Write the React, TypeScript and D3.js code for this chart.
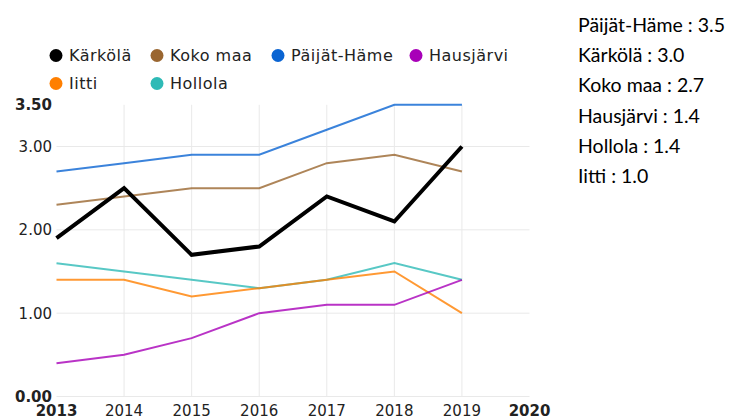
import React from "react";
import * as d3 from "d3";

const years = [2013, 2014, 2015, 2016, 2017, 2018, 2019];
const xTicks = [2013, 2014, 2015, 2016, 2017, 2018, 2019, 2020];
const yTicks = [0, 1, 2, 3, 3.5];

const karkola = [1.9, 2.5, 1.7, 1.8, 2.4, 2.1, 3.0];
const kokoMaa = [2.3, 2.4, 2.5, 2.5, 2.8, 2.9, 2.7];
const paijatHame = [2.7, 2.8, 2.9, 2.9, 3.2, 3.5, 3.5];
const hausjarvi = [0.4, 0.5, 0.7, 1.0, 1.1, 1.1, 1.4];
const iitti = [1.4, 1.4, 1.2, 1.3, 1.4, 1.5, 1.0];
const hollola = [1.6, 1.5, 1.4, 1.3, 1.4, 1.6, 1.4];

const seriesNames = ["Kärkölä", "Koko maa", "Päijät-Häme", "Hausjärvi", "Iitti", "Hollola"];
const seriesValues = [karkola, kokoMaa, paijatHame, hausjarvi, iitti, hollola];
const seriesColors = ["#000000", "#9a6630", "#0a64d2", "#a800b8", "#ff7f00", "#2ebab6"];
const seriesWidths = [4, 2, 2, 2, 2, 2];

const latestLabels = ["Päijät-Häme : 3.5", "Kärkölä : 3.0", "Koko maa : 2.7", "Hausjärvi : 1.4", "Hollola : 1.4", "Iitti : 1.0"];

const legendCols = [56, 157, 278, 416];

export default function App() {
  const x = d3.scaleLinear().domain([2013, 2020]).range([56.5, 529.5]);
  const y = d3.scaleLinear().domain([0, 3.5]).range([396.5, 104.8]);
  const line = (vals: number[]) =>
    d3.line<number>().x((_, i) => x(years[i])).y((v) => y(v))(vals) || "";

  const font = "'DejaVu Sans', sans-serif";
  const order = [5, 4, 3, 2, 1, 0];

  return (
    <svg width={735} height={420} style={{ position: "absolute", left: 0, top: 0, background: "#fff" }}>
      {/* grid */}
      {yTicks.filter((t) => t < 3.5).map((t) => (
        <line key={"h" + t} x1={x(2013)} x2={x(2020)} y1={y(t)} y2={y(t)} stroke="#e9e9e9" strokeWidth={1} />
      ))}
      {xTicks.filter((t) => t > 2013 && t < 2020).map((t) => (
        <line key={"v" + t} x1={x(t)} x2={x(t)} y1={y(3.5)} y2={y(0)} stroke="#e9e9e9" strokeWidth={1} />
      ))}
      {/* y labels */}
      {yTicks.map((t, i) => (
        <text
          key={"yl" + t}
          x={52}
          y={y(t)}
          dy="0.36em"
          textAnchor="end"
          fontFamily={font}
          fontSize={15}
          fontWeight={i === 0 || i === yTicks.length - 1 ? "bold" : "normal"}
          fill="#222"
        >
          {t.toFixed(2)}
        </text>
      ))}
      {/* x labels */}
      {xTicks.map((t, i) => (
        <text
          key={"xl" + t}
          x={x(t)}
          y={416}
          textAnchor="middle"
          fontFamily={font}
          fontSize={15}
          fontWeight={i === 0 || i === xTicks.length - 1 ? "bold" : "normal"}
          fill="#222"
        >
          {t}
        </text>
      ))}
      {/* lines */}
      {order.map((k) => (
        <path
          key={"s" + k}
          d={line(seriesValues[k])}
          fill="none"
          stroke={seriesColors[k]}
          strokeOpacity={k === 0 ? 1 : 0.8}
          strokeWidth={seriesWidths[k]}
          strokeLinejoin="miter"
        />
      ))}
      {/* legend */}
      {seriesNames.map((name, i) => {
        const col = i % 4;
        const row = Math.floor(i / 4);
        const cx = legendCols[col];
        const cy = 55.5 + row * 28;
        return (
          <g key={"lg" + name}>
            <circle cx={cx} cy={cy} r={6.5} fill={seriesColors[i]} />
            <text x={cx + 13} y={cy} dy="0.36em" fontFamily={font} fontSize={16} letterSpacing={0.5} fill="#222">
              {name}
            </text>
          </g>
        );
      })}
      {/* right panel */}
      {latestLabels.map((s, i) => (
        <text key={"r" + i} x={578} y={32 + i * 30.2} fontFamily="Lato, 'Open Sans', sans-serif" fontSize={19.5} fill="#000">
          {s}
        </text>
      ))}
    </svg>
  );
}
